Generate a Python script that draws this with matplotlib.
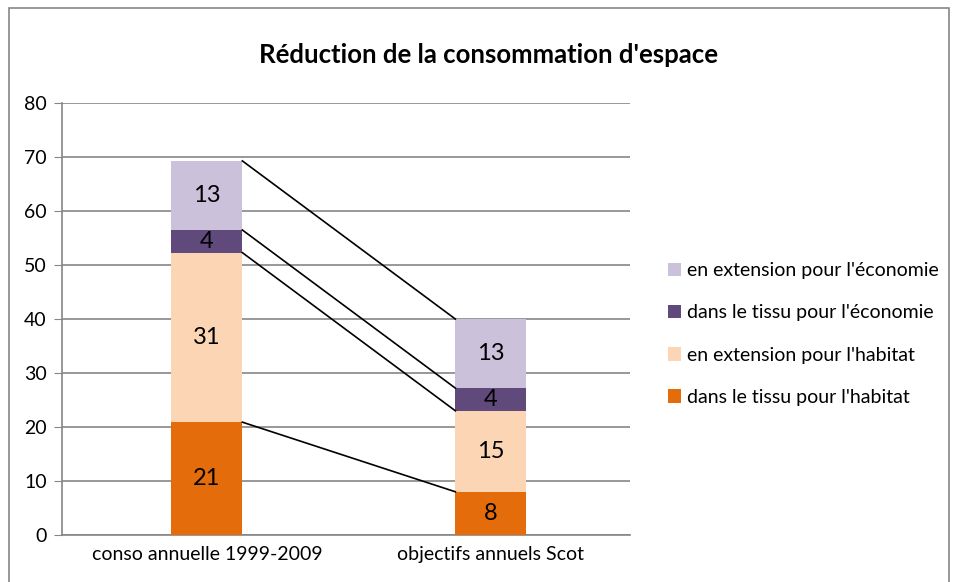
import matplotlib.pyplot as plt
from matplotlib.patches import Rectangle, Patch

plt.rcParams['font.family'] = ['Lato', 'DejaVu Sans']

categories = ["conso annuelle 1999-2009", "objectifs annuels Scot"]
series = ["dans le tissu pour l'habitat", "en extension pour l'habitat",
          "dans le tissu pour l'économie", "en extension pour l'économie"]
values = [
    [20.9, 8.0],    # dans le tissu pour l'habitat
    [31.4, 15.0],   # en extension pour l'habitat
    [4.2, 4.2],     # dans le tissu pour l'économie
    [12.8, 12.8],   # en extension pour l'économie
]
colors = ["#E46C0A", "#FCD5B5", "#604A7B", "#CCC1DA"]
yticks = [0, 10, 20, 30, 40, 50, 60, 70, 80]

fig = plt.figure(figsize=(9.58, 5.82), dpi=100)
fig.patches.append(Rectangle((0.009, -0.01), 0.982, 0.997, transform=fig.transFigure,
                             fill=False, edgecolor="#868686", linewidth=1.2))
ax = fig.add_axes([0.0647, 0.0808, 0.593, 0.742])

x = range(len(categories))
width = 0.25
bottoms = [0.0, 0.0]
tops = []
for vals, col in zip(values, colors):
    ax.bar(x, vals, width, bottom=bottoms, color=col, zorder=3)
    for i, v in enumerate(vals):
        ax.text(i, bottoms[i] + v / 2, str(int(round(v))), ha="center", va="center",
                fontsize=17, color="black", zorder=5)
    bottoms = [b + v for b, v in zip(bottoms, vals)]
    tops.append(list(bottoms))

# series lines between the bars
for t in tops:
    ax.plot([width / 2, 1 - width / 2], t, color="black", linewidth=1.2, zorder=4)

ax.set_xlim(-0.51, 1.49)
ax.set_ylim(0, 80)
ax.set_yticks(yticks)
ax.set_xticks(list(x))
ax.set_xticklabels(categories, fontsize=14)
ax.tick_params(axis="y", labelsize=14, length=6, color="#868686", pad=5)
ax.tick_params(axis="x", length=0, pad=8)
ax.grid(axis="y", color="#868686", linewidth=1.2, zorder=0)
for s in ["top", "right"]:
    ax.spines[s].set_visible(False)
ax.spines["left"].set_color("#868686")
ax.spines["bottom"].set_color("#868686")
ax.spines["left"].set_linewidth(1.2)
ax.spines["bottom"].set_linewidth(1.2)

fig.text(0.51, 0.905, "Réduction de la consommation d'espace", ha="center", va="center",
         fontsize=18.5, fontweight="bold")

handles = [Patch(facecolor=c) for c in colors][::-1]
fig.legend(handles, series[::-1], loc="center left", bbox_to_anchor=(0.697, 0.426),
           frameon=False, fontsize=14, handlelength=0.7, handleheight=0.7,
           handletextpad=0.3, labelspacing=1.3, borderaxespad=0, borderpad=0)

fig.savefig("out.png", dpi=100)
